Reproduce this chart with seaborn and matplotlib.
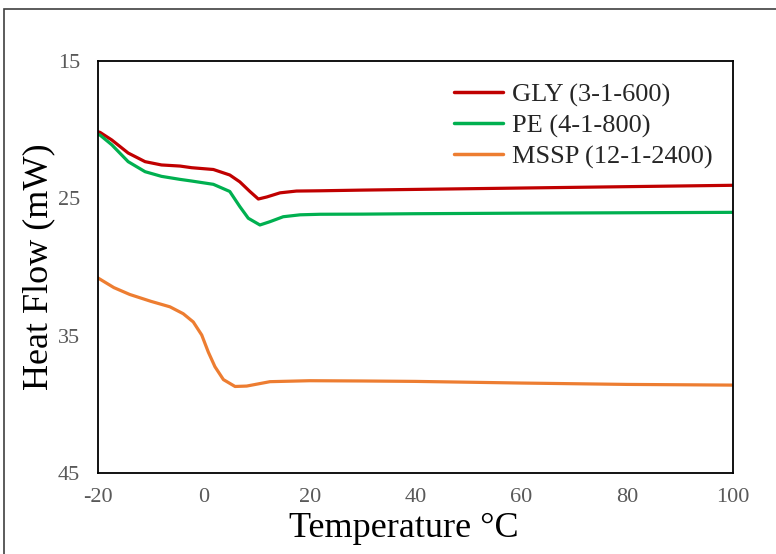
import matplotlib
matplotlib.use("Agg")
import matplotlib.pyplot as plt
import seaborn as sns
import pandas as pd
from matplotlib.patches import Rectangle

gly_t = [-20, -19.6, -17.4, -14.3, -11.1, -8, -4.5, -2.3, 1.8, 4.9, 6.8, 8.7, 10.3, 11.9, 14.4, 17.5, 22, 30, 40, 60, 80, 100]
gly_v = [20.15, 20.2, 20.75, 21.7, 22.33, 22.57, 22.65, 22.77, 22.9, 23.3, 23.8, 24.5, 25.05, 24.9, 24.6, 24.47, 24.45, 24.4, 24.35, 24.25, 24.15, 24.05]

pe_t = [-20, -19.6, -17.4, -14.3, -11.1, -8, -4.5, -2.3, 1.8, 4.9, 6.8, 8.4, 10.6, 12.5, 15, 18.2, 22, 30, 40, 60, 80, 100]
pe_v = [20.35, 20.4, 21.1, 22.33, 23.06, 23.4, 23.62, 23.74, 23.98, 24.5, 25.6, 26.45, 26.94, 26.7, 26.34, 26.2, 26.16, 26.15, 26.12, 26.08, 26.05, 26.02]

mssp_t = [-20, -17, -14, -10, -6.4, -3.9, -2, -0.4, 0.85, 2.1, 3.7, 5.9, 8.1, 12.5, 20, 30, 40, 60, 80, 100]
mssp_v = [30.8, 31.5, 32.0, 32.5, 32.9, 33.4, 34.0, 34.95, 36.2, 37.26, 38.2, 38.7, 38.67, 38.35, 38.28, 38.3, 38.33, 38.45, 38.55, 38.6]

labels = ["GLY (3-1-600)", "PE (4-1-800)", "MSSP (12-1-2400)"]
colors = ["#C00000", "#00B050", "#ED7D31"]
x_ticks = [-20, 0, 20, 40, 60, 80, 100]
y_ticks = [15, 25, 35, 45]

df = pd.concat([
    pd.DataFrame({"T": gly_t, "HF": gly_v, "series": labels[0]}),
    pd.DataFrame({"T": pe_t, "HF": pe_v, "series": labels[1]}),
    pd.DataFrame({"T": mssp_t, "HF": mssp_v, "series": labels[2]}),
])

sns.set_style("white")
plt.rcParams["font.family"] = ["Liberation Serif", "DejaVu Serif"]
plt.rcParams["axes.unicode_minus"] = False

fig = plt.figure(figsize=(7.76, 5.54), dpi=100)
ax = fig.add_axes([98 / 776, 1 - 473 / 554, (733 - 98) / 776, (473 - 61) / 554])

sns.lineplot(data=df, x="T", y="HF", hue="series", palette=colors, hue_order=labels,
             linewidth=2.3, ax=ax, sort=False)
for ln in ax.get_lines():
    ln.set_solid_joinstyle("round")
    ln.set_solid_capstyle("round")

ax.set_xlim(-20, 100)
ax.set_ylim(45, 15)
ax.set_xticks(x_ticks)
ax.set_yticks(y_ticks)
ax.tick_params(axis="both", labelsize=16, labelcolor="#595959", length=0)
ax.tick_params(axis="x", pad=11)
ax.tick_params(axis="y", pad=13)
for s in ax.spines.values():
    s.set_color("black")
    s.set_linewidth(1.3)

ax.set_xlabel("Temperature °C", fontsize=26, color="black")
ax.xaxis.set_label_coords((404 - 98) / (733 - 98), -(512 - 473) / (473 - 61))
ax.set_ylabel("Heat Flow (mW)", fontsize=26, color="black", labelpad=2)

leg = ax.legend(loc="upper right", bbox_to_anchor=(1.005, 1.005), frameon=False,
                fontsize=19, handlelength=1.85, handletextpad=0.35, labelspacing=0.27)
for h in leg.get_lines():
    h.set_linewidth(2.5)

fig.patches.append(Rectangle((4 / 776, -0.01), 2, 1 - 9 / 554 + 0.01, transform=fig.transFigure,
                             fill=False, edgecolor="#404040", linewidth=1.2))

fig.savefig("out.png", dpi=100)
